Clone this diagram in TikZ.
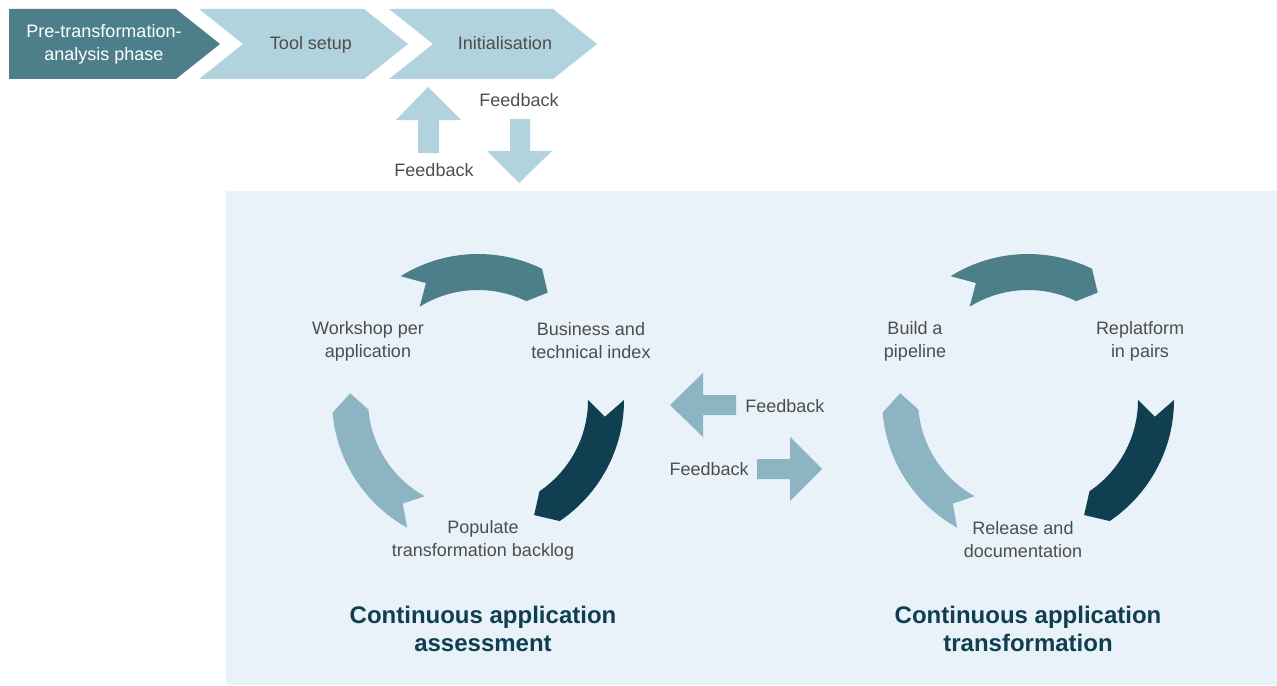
\documentclass[tikz,border=0pt]{standalone}
\usepackage{fontspec}
\setmainfont{Liberation Sans}
\definecolor{tealmid}{HTML}{4D7F8B}
\definecolor{tealdark}{HTML}{0F3F50}
\definecolor{teallight}{HTML}{8CB4C2}
\definecolor{chevlight}{HTML}{B1D3DE}
\definecolor{panelbg}{HTML}{E8F2F8}
\definecolor{textgrey}{HTML}{4D4D4D}
\newcommand{\cycarr}[5]{% color, tail, head base, tip, notch
  \fill[#1] (#2:146) arc[start angle=#2, end angle=#3, radius=146] -- (#4:128)
    -- (#3:110) arc[start angle=#3, end angle=#2, radius=110] -- (#5:128) -- cycle;}
\begin{document}
\begin{tikzpicture}[x=0.75pt,y=-0.75pt,
  txt/.style={text=textgrey, font=\fontsize{13.5}{17.25}\selectfont, align=center, inner sep=0pt},
  ttl/.style={text=tealdark, font=\fontsize{18}{21}\selectfont\bfseries, align=center, inner sep=0pt}]
\useasboundingbox (0,0) rectangle (1277,685);
% panel
\fill[panelbg] (226,191) rectangle (1277,685);
% chevrons
\fill[tealmid] (9,9) -- (176,9) -- (220,44) -- (176,79) -- (9,79) -- cycle;
\fill[chevlight] (199,9) -- (364,9) -- (408,44) -- (364,79) -- (199,79) -- (243,44) -- cycle;
\fill[chevlight] (389,9) -- (553,9) -- (597,44) -- (553,79) -- (389,79) -- (433,44) -- cycle;
\node[txt, text=white] (pre) at (104,44) {Pre-transformation-\\analysis phase};
\node[txt, anchor=base] (tool) at (311,50) {Tool setup};
\node[txt, anchor=base] (init) at (505,50) {Initialisation};
% vertical feedback arrows
\fill[chevlight] (428,87) -- (461,120) -- (439,120) -- (439,153) -- (418,153) -- (418,120) -- (396,120) -- cycle;
\fill[chevlight] (510,119) -- (530,119) -- (530,151) -- (552,151) -- (519,183) -- (487,151) -- (510,151) -- cycle;
\node[txt] (fbtop) at (519,100) {Feedback};
\node[txt] (fbbot) at (434,170) {Feedback};
% middle feedback arrows
\fill[teallight] (670,405) -- (703,373) -- (703,395) -- (736,395) -- (736,415) -- (703,415) -- (703,437) -- cycle;
\fill[teallight] (757,459) -- (790,459) -- (790,437) -- (822,469) -- (790,501) -- (790,479) -- (757,479) -- cycle;
\node[txt, anchor=west] (fbleft) at (745,406) {Feedback};
\node[txt, anchor=east] (fbright) at (749,469) {Feedback};
% left cycle
\begin{scope}[shift={(478,400)}, y=0.75pt]
  \cycarr{tealmid}{122}{64}{57}{114}
  \cycarr{tealdark}{0}{-56}{-64}{-7.5}
  \cycarr{teallight}{241}{185}{177}{234}
\end{scope}
% right cycle
\begin{scope}[shift={(1028,400)}, y=0.75pt]
  \cycarr{tealmid}{122}{64}{57}{114}
  \cycarr{tealdark}{0}{-56}{-64}{-7.5}
  \cycarr{teallight}{241}{185}{177}{234}
\end{scope}
\node[txt] (workshop) at (368,341) {Workshop per\\application};
\node[txt] (business) at (591,341) {Business and\\technical index};
\node[txt] (populate) at (483,540) {Populate\\transformation backlog};
\node[txt] (build) at (915,341) {Build a\\pipeline};
\node[txt] (replat) at (1140,341) {Replatform\\in pairs};
\node[txt] (release) at (1023,540) {Release and\\documentation};
\node[ttl] (assess) at (483,629) {Continuous application\\assessment};
\node[ttl] (transf) at (1028,629) {Continuous application\\transformation};
\end{tikzpicture}
\end{document}
